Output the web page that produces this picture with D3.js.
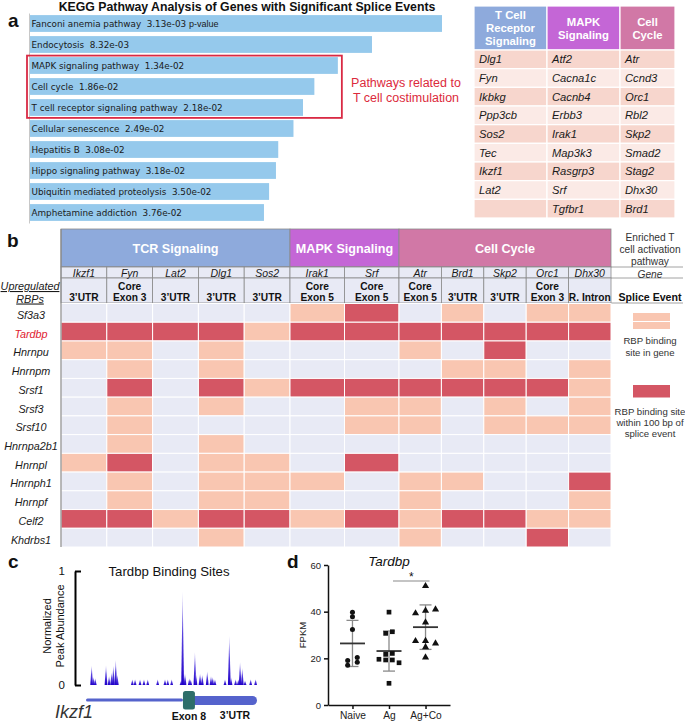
<!DOCTYPE html>
<html><head><meta charset="utf-8">
<script src="https://cdn.jsdelivr.net/npm/d3@7"></script>
<style>body{margin:0;background:#fff} svg{display:block} text{font-family:"Liberation Sans",Arial,sans-serif}</style>
</head><body><svg id="fig" width="685" height="723"></svg>
<script>
// ================= DATA =================
// Panel a — KEGG pathways
const pathways = ["Fanconi anemia pathway","Endocytosis","MAPK signaling pathway","Cell cycle","T cell receptor signaling pathway","Cellular senescence","Hepatitis B","Hippo signaling pathway","Ubiquitin mediated proteolysis","Amphetamine addiction"];
const pValues = [3.13e-3,8.32e-3,1.34e-2,1.86e-2,2.18e-2,2.49e-2,3.08e-2,3.18e-2,3.50e-2,3.76e-2];
const pValueLabels = ["3.13e-03","8.32e-03","1.34e-02","1.86e-02","2.18e-02","2.49e-02","3.08e-02","3.18e-02","3.50e-02","3.76e-02"];
const highlighted = ["MAPK signaling pathway","Cell cycle","T cell receptor signaling pathway"];
// Panel a — gene table
const tableHeaders = [["T Cell","Receptor","Signaling"],["MAPK","Signaling"],["Cell","Cycle"]];
const tcrGenes = ["Dlg1","Fyn","Ikbkg","Ppp3cb","Sos2","Tec","Ikzf1","Lat2",""];
const mapkGenes = ["Atf2","Cacna1c","Cacnb4","Erbb3","Irak1","Map3k3","Rasgrp3","Srf","Tgfbr1"];
const cellCycleGenes = ["Atr","Ccnd3","Orc1","Rbl2","Skp2","Smad2","Stag2","Dhx30","Brd1"];
// Panel b — RBP binding heatmap
const pathwayGroups = ["TCR Signaling","MAPK Signaling","Cell Cycle"];
const groupSizes = [5,2,5];
const genes = ["Ikzf1","Fyn","Lat2","Dlg1","Sos2","Irak1","Srf","Atr","Brd1","Skp2","Orc1","Dhx30"];
const spliceEvents = [["3\u2019UTR"],["Core","Exon 3"],["3\u2019UTR"],["3\u2019UTR"],["3\u2019UTR"],["Core","Exon 5"],["Core","Exon 5"],["Core","Exon 5"],["3\u2019UTR"],["3\u2019UTR"],["Core","Exon 3"],["R. Intron"]];
const rbps = ["Sf3a3","Tardbp","Hnrnpu","Hnrnpm","Srsf1","Srsf3","Srsf10","Hnrnpa2b1","Hnrnpl","Hnrnph1","Hnrnpf","Celf2","Khdrbs1"];
// 0 = no binding, 1 = binding site in gene, 2 = binding site within 100 bp of splice event
const binding = [
  [0,0,0,0,0,1,2,0,1,0,1,1],
  [2,2,2,2,1,2,2,2,2,2,2,2],
  [1,1,0,1,0,0,0,1,0,2,0,0],
  [0,1,0,1,0,0,0,0,1,1,0,1],
  [0,2,0,2,1,2,2,2,2,2,2,1],
  [0,1,0,1,0,0,1,1,0,1,0,1],
  [0,1,0,0,0,0,1,1,0,1,1,1],
  [0,1,0,1,0,0,0,0,0,0,0,0],
  [1,2,0,1,1,0,2,0,0,0,0,0],
  [0,1,0,1,1,1,0,1,1,0,0,2],
  [0,1,0,1,1,0,0,1,0,0,0,1],
  [2,2,1,2,2,1,2,1,2,2,1,1],
  [0,0,0,1,0,0,0,1,0,0,2,0]
];
const legendLabels = [["RBP binding","site in gene"],["RBP binding site","within 100 bp of","splice event"]];
// Panel c — Tardbp binding peaks along Ikzf1 (position as % of shown region, normalized abundance)
const peakPos =    [3.3,4.3,5.4,11.7,13.5,15.0,16.0,17.4,18.3,27.1,28.7,31.6,33.9,36.1,41.9,46.2,47.8,50.1,55.6,56.5,57.9,60.4,61.2,63.7,64.3,66.7,68.0,70.9,73.1,74.1,75.4,81.3,83.8,84.8,87.5,89.1,90.1,91.4,93.0,96.3,99.2];
const peakHeight = [0.17,0.07,0.06,0.17,0.08,0.11,0.17,0.22,0.09,0.05,0.05,0.05,0.05,0.05,0.05,0.05,0.05,0.05,0.04,0.82,0.10,0.06,0.05,0.29,0.10,0.10,0.09,0.12,0.08,0.07,0.05,0.05,0.43,0.07,0.05,0.05,0.20,0.15,0.04,0.05,0.05];
const exonRegion = [56.7,63.7];
const utrRegion = [63.7,100];
// Panel d — Tardbp FPKM
const conditions = ["Naive","Ag","Ag+Co"];
const fpkmNaive = [39.7,37.8,32.4,19.1,20.4,17.0,18.3];
const fpkmAg = [39.8,30.7,31.4,21.7,22.1,19.6,19.3,19.3,18.1,9.3];
const fpkmAgCo = [51.0,39.3,40.4,41.0,35.4,27.4,27.5,26.4,24.8,20.4];
const fpkmTicks = [0,20,40,60];

// ================= DRAWING =================
const SANS = '"Liberation Sans", Arial, sans-serif';
const svg = d3.select("#fig");
const groupColors = ["#8eaadc","#c466d6","#d178a6"];

// panel letters
svg.selectAll("text.panel").data([["a",8,27],["b",7,247],["c",8,568],["d",287,568]]).join("text")
  .attr("x",d=>d[1]).attr("y",d=>d[2]).attr("font-size",19).attr("font-weight","bold").attr("fill","#111").text(d=>d[0]);

// ---------- Panel a: bars ----------
const negLog = pValues.map(p=>-Math.log10(p));
const xBar = d3.scaleLinear().domain([0,d3.max(negLog)]).range([29,442]);
const yBar = d3.scaleBand().domain(pathways).range([13,223]).paddingInner(0.2).paddingOuter(0.1);
const gA = svg.append("g");
gA.append("text").attr("x",247).attr("y",10.5).attr("text-anchor","middle").attr("font-size",12.3).attr("font-weight","bold").attr("fill","#111")
  .text("KEGG Pathway Analysis of Genes with Significant Splice Events");
gA.selectAll("rect.bar").data(pathways).join("rect").attr("class","bar")
  .attr("x",xBar(0)).attr("y",d=>yBar(d)).attr("width",(d,i)=>xBar(negLog[i])-xBar(0)).attr("height",yBar.bandwidth()).attr("fill","#95c9ec");
const axA = gA.append("g").attr("transform",`translate(${xBar(0)},0)`).call(d3.axisLeft(yBar).tickSize(0).tickFormat(""));
axA.select(".domain").attr("stroke","#c8c8c8");
gA.selectAll("text.bl").data(pathways).join("text").attr("class","bl")
  .attr("x",xBar(0)+2.5).attr("y",d=>yBar(d)+yBar.bandwidth()/2+3.2)
  .style("font-family","'DejaVu Sans', sans-serif").style("font-size","8.8px").attr("fill","#1a1a1a")
  .each(function(d,i){
    const t=d3.select(this);
    t.append("tspan").text(d+"\u00a0\u00a0"+pValueLabels[i]);
    if(i===0) t.append("tspan").attr("dx",3).style("font-family",SANS).style("font-size","9px").text("p-value");
  });
const hl = highlighted.map(d=>pathways.indexOf(d));
const boxTop = yBar(pathways[d3.min(hl)])-1.5, boxBot = yBar(pathways[d3.max(hl)])+yBar.bandwidth()+2;
const boxRight = xBar(d3.max(hl,i=>negLog[i]))+4;
gA.append("rect").attr("x",xBar(0)-2).attr("y",boxTop).attr("width",boxRight-xBar(0)+2).attr("height",boxBot-boxTop)
  .attr("fill","none").attr("stroke","#d92a44").attr("stroke-width",1.8);
gA.selectAll("text.red").data(["Pathways related to","T cell costimulation"]).join("text")
  .attr("x",406).attr("y",(d,i)=>87+i*15).attr("text-anchor","middle").attr("font-size",12.5).attr("fill","#dc2a3c").text(d=>d);

// ---------- Panel a: table ----------
const tEdges = [474,547,620,675];
const tHeadTop = 6, tHeadBot = 50, tBot = 218;
const tableCols = [tcrGenes,mapkGenes,cellCycleGenes];
const nTRows = d3.max(tableCols,c=>c.length);
const yT = d3.scaleBand().domain(d3.range(nTRows)).range([tHeadBot,tBot]);
const gT = svg.append("g");
tableCols.forEach((col,ci)=>{
  const x0=tEdges[ci], w=tEdges[ci+1]-tEdges[ci];
  gT.append("rect").attr("x",x0).attr("y",tHeadTop).attr("width",w).attr("height",tHeadBot-tHeadTop)
    .attr("fill",groupColors[ci]).attr("stroke","#fff").attr("stroke-width",1.2);
  const lines=tableHeaders[ci], lh=13.2, mid=(tHeadTop+tHeadBot)/2;
  lines.forEach((ln,li)=>{
    gT.append("text").attr("x",x0+w/2).attr("y",mid+(li-(lines.length-1)/2)*lh+4.2).attr("text-anchor","middle")
      .attr("font-size",11.3).attr("font-weight","bold").attr("fill","#fff").text(ln);
  });
  d3.range(nTRows).forEach(ri=>{
    gT.append("rect").attr("x",x0).attr("y",yT(ri)).attr("width",w).attr("height",yT.bandwidth())
      .attr("fill",ri%2===0?"#f7d6cd":"#fbeae6").attr("stroke","#fff").attr("stroke-width",1.2);
    gT.append("text").attr("x",x0+5).attr("y",yT(ri)+yT.bandwidth()/2+4).attr("font-size",11.2).attr("font-style","italic")
      .attr("fill","#1a1a1a").text(col[ri]||"");
  });
});

// ---------- Panel b: heatmap ----------
const cum = [0]; groupSizes.forEach(s=>cum.push(cum[cum.length-1]+s));
const colX = d3.scaleLinear().domain(cum).range([61,290,399,611]);
const hTop=229, hGene=267, hSplice=278, hGrid=303.5, gridBot=547;
const yR = d3.scaleBand().domain(rbps).range([hGrid,gridBot]);
const cellColors = ["#e8eaf5","#f9c6b1","#d45664"];
const gB = svg.append("g");
pathwayGroups.forEach((g,gi)=>{
  const x0=colX(cum[gi]), x1=colX(cum[gi+1]);
  gB.append("rect").attr("x",x0).attr("y",hTop).attr("width",x1-x0).attr("height",hGene-hTop)
    .attr("fill",groupColors[gi]).attr("stroke","#8a8a8a").attr("stroke-width",0.8);
  gB.append("text").attr("x",(x0+x1)/2).attr("y",(hTop+hGene)/2+4.5).attr("text-anchor","middle")
    .attr("font-size",12.6).attr("font-weight","bold").attr("fill","#fff").text(g);
});
[hGene,hSplice,hGrid-0.5].forEach(y=>gB.append("line").attr("x1",colX(0)).attr("x2",683).attr("y1",y).attr("y2",y).attr("stroke","#8a8a8a").attr("stroke-width",0.8));
genes.forEach((g,i)=>{
  const x0=colX(i), x1=colX(i+1);
  gB.append("rect").attr("x",x0).attr("y",hGene).attr("width",x1-x0).attr("height",hSplice-hGene)
    .attr("fill","#e8eaf5").attr("stroke","#8a8a8a").attr("stroke-width",0.8);
  gB.append("rect").attr("x",x0).attr("y",hSplice).attr("width",x1-x0).attr("height",hGrid-0.5-hSplice)
    .attr("fill","#e8eaf5").attr("stroke","#8a8a8a").attr("stroke-width",0.8);
  gB.append("text").attr("x",(x0+x1)/2).attr("y",hGene+9.5).attr("text-anchor","middle").attr("font-size",10.5)
    .attr("font-style","italic").attr("fill","#1a1a1a").text(g);
  const ev=spliceEvents[i];
  ev.forEach((ln,li)=>{
    gB.append("text").attr("x",(x0+x1)/2).attr("y",300.5-(ev.length-1-li)*11).attr("text-anchor","middle")
      .attr("font-size",10.2).attr("font-weight","bold").attr("fill","#111").text(ln);
  });
});
rbps.forEach((r,ri)=>{
  genes.forEach((g,gi)=>{
    gB.append("rect").attr("x",colX(gi)).attr("y",yR(r)).attr("width",colX(gi+1)-colX(gi)).attr("height",yR.bandwidth())
      .attr("fill",cellColors[binding[ri][gi]]).attr("stroke","#fff").attr("stroke-width",1);
  });
  gB.append("text").attr("x",31).attr("y",yR(r)+yR.bandwidth()/2+6).attr("text-anchor","middle").attr("font-size",10.8)
    .attr("font-style","italic").attr("fill",r==="Tardbp"?"#e0202f":"#1a1a1a").text(r);
});
gB.append("line").attr("x1",colX(0)).attr("x2",colX(0)).attr("y1",hTop).attr("y2",gridBot).attr("stroke","#8a8a8a").attr("stroke-width",1.2);
gB.selectAll("text.up").data(["Upregulated","RBPs"]).join("text").attr("x",30).attr("y",(d,i)=>290+i*12.5)
  .attr("text-anchor","middle").attr("font-size",10.8).attr("font-style","italic").attr("text-decoration","underline").attr("fill","#1a1a1a").text(d=>d);
const rcx = 650;
["Enriched T","cell activation","pathway"].forEach((t,i)=>gB.append("text").attr("x",rcx).attr("y",240.5+i*12).attr("text-anchor","middle").attr("font-size",10.2).attr("fill","#333").text(t));
gB.append("text").attr("x",rcx).attr("y",277.5).attr("text-anchor","middle").attr("font-size",10.2).attr("font-style","italic").attr("fill","#333").text("Gene");
gB.append("text").attr("x",rcx).attr("y",300.5).attr("text-anchor","middle").attr("font-size",10.6).attr("font-weight","bold").attr("fill","#111").text("Splice Event");
gB.append("rect").attr("x",633).attr("y",313).attr("width",37).attr("height",8).attr("fill",cellColors[1]);
gB.append("rect").attr("x",633).attr("y",322).attr("width",37).attr("height",7).attr("fill",cellColors[1]);
gB.append("rect").attr("x",633).attr("y",385).attr("width",37).attr("height",12.5).attr("fill",cellColors[2]);
legendLabels[0].forEach((t,i)=>gB.append("text").attr("x",rcx).attr("y",344+i*11.5).attr("text-anchor","middle").attr("font-size",9.6).attr("fill","#333").text(t));
legendLabels[1].forEach((t,i)=>gB.append("text").attr("x",rcx).attr("y",415+i*11).attr("text-anchor","middle").attr("font-size",9.6).attr("fill","#333").text(t));

// ---------- Panel c ----------
const gC = svg.append("g");
const yC = d3.scaleLinear().domain([0,1]).range([685,571]);
const xC = d3.scaleLinear().domain([0,100]).range([86,257]);
const defs = svg.append("defs");
const grad = defs.append("linearGradient").attr("id","pk").attr("x1",0).attr("y1",1).attr("x2",0).attr("y2",0);
grad.append("stop").attr("offset","0%").attr("stop-color","#2000c8");
grad.append("stop").attr("offset","55%").attr("stop-color","#5a44e0");
grad.append("stop").attr("offset","100%").attr("stop-color","#c8c0f4");
gC.append("text").attr("x",169).attr("y",576).attr("text-anchor","middle").attr("font-size",13.2).attr("fill","#111").text("Tardbp Binding Sites");
const axC = gC.append("g").attr("transform","translate(75,0)")
  .call(d3.axisLeft(yC).tickValues([0,1]).tickFormat(d3.format("d")).tickSize(-6).tickSizeOuter(0).tickPadding(10));
axC.selectAll("path,line").attr("stroke","#000").attr("stroke-width",2);
axC.selectAll("text").attr("font-size",11.5).attr("fill","#111").style("font-family",SANS);
[["Normalized",51],["Peak Abundance",64]].forEach(([t,x])=>gC.append("text").attr("transform",`translate(${x},626) rotate(-90)`)
  .attr("text-anchor","middle").attr("font-size",11).attr("fill","#111").text(t));
gC.selectAll("path.pk").data(peakPos).join("path").attr("class","pk")
  .attr("d",(p,i)=>{const x=xC(p), b=yC(0), t=yC(peakHeight[i]); return `M${x-1.4},${b}L${x},${t}L${x+1.4},${b}Z`;})
  .attr("fill","url(#pk)");
gC.append("rect").attr("x",xC(0)).attr("y",698.5).attr("width",xC(exonRegion[0])-xC(0)).attr("height",3).attr("rx",1.5).attr("fill","#5563cc");
gC.append("rect").attr("x",xC(exonRegion[1])-4).attr("y",696).attr("width",xC(utrRegion[1])-xC(exonRegion[1])+4).attr("height",9).attr("rx",4.5).attr("fill","#5563cc");
gC.append("rect").attr("x",xC(exonRegion[0])).attr("y",691).attr("width",xC(exonRegion[1])-xC(exonRegion[0])).attr("height",18.5).attr("rx",2.5).attr("fill","#2e6e6a");
gC.append("text").attr("x",xC((exonRegion[0]+exonRegion[1])/2)).attr("y",720).attr("text-anchor","middle").attr("font-size",10.5).attr("font-weight","bold").attr("fill","#111").text("Exon 8");
gC.append("text").attr("x",235).attr("y",719).attr("text-anchor","middle").attr("font-size",10.5).attr("font-weight","bold").attr("fill","#111").text("3\u2019UTR");
gC.append("text").attr("x",55).attr("y",718).attr("font-size",18).attr("font-style","italic").attr("fill","#333").text("Ikzf1");

// ---------- Panel d ----------
const gD = svg.append("g");
const yD = d3.scaleLinear().domain([0,60]).range([705,565]);
const xD = d3.scalePoint().domain(conditions).range([328,450]).padding(0.67);
const axDy = gD.append("g").attr("transform","translate(328,0)").call(d3.axisLeft(yD).tickValues(fpkmTicks).tickSize(4).tickSizeOuter(0).tickPadding(3));
const axDx = gD.append("g").attr("transform","translate(0,705)").call(d3.axisBottom(xD).tickSize(4).tickSizeOuter(0).tickPadding(3));
[axDy,axDx].forEach(a=>{a.selectAll("path,line").attr("stroke","#111").attr("stroke-width",1.5); a.selectAll("text").attr("fill","#222").style("font-family",SANS);});
axDy.selectAll("text").attr("font-size",9.5);
axDx.selectAll("text").attr("font-size",10.2);
gD.append("text").attr("transform","translate(306,635) rotate(-90)").attr("text-anchor","middle").attr("font-size",9.5).attr("fill","#222").text("FPKM");
gD.append("text").attr("x",389).attr("y",566).attr("text-anchor","middle").attr("font-size",13.5).attr("font-style","italic").attr("fill","#111").text("Tardbp");
const series=[fpkmNaive,fpkmAg,fpkmAgCo];
const symbols=[d3.symbolCircle,d3.symbolSquare,d3.symbolTriangle];
const symSize=[20,22,22];
const spacing=[9.6,6.7,10];
series.forEach((vals,si)=>{
  const cx=xD(conditions[si]);
  const order=d3.range(vals.length).sort((a,b)=>vals[b]-vals[a]);
  const rows=[]; order.forEach(i=>{const r=rows[rows.length-1]; if(r&&vals[r.start]-vals[i]<=1.8) r.idx.push(i); else rows.push({start:i,idx:[i]});});
  const offs=new Array(vals.length);
  rows.forEach(r=>{r.idx.sort((a,b)=>a-b); r.idx.forEach((i,k)=>offs[i]=(k-(r.idx.length-1)/2)*spacing[si]);});
  const m=d3.mean(vals), sd=d3.deviation(vals);
  gD.append("line").attr("x1",cx).attr("x2",cx).attr("y1",yD(m+sd)).attr("y2",yD(m-sd)).attr("stroke","#8a8a8a").attr("stroke-width",1.3);
  [m+sd,m-sd].forEach(v=>gD.append("line").attr("x1",cx-6).attr("x2",cx+6).attr("y1",yD(v)).attr("y2",yD(v)).attr("stroke","#8a8a8a").attr("stroke-width",1.3));
  gD.append("line").attr("x1",cx-12.5).attr("x2",cx+12.5).attr("y1",yD(m)).attr("y2",yD(m)).attr("stroke","#333").attr("stroke-width",1.8);
  gD.selectAll(null).data(vals).join("path").attr("transform",(v,i)=>`translate(${cx+offs[i]},${yD(v)})`)
    .attr("d",d3.symbol().type(symbols[si]).size(symSize[si])).attr("fill","#111");
});
gD.append("line").attr("x1",xD("Ag")+4).attr("x2",xD("Ag+Co")+4).attr("y1",581).attr("y2",581).attr("stroke","#8a8a8a").attr("stroke-width",1.2);
gD.append("text").attr("x",(xD("Ag")+xD("Ag+Co"))/2+4).attr("y",580.5).attr("text-anchor","middle").attr("font-size",12).attr("fill","#111").text("*");
</script></body></html>
